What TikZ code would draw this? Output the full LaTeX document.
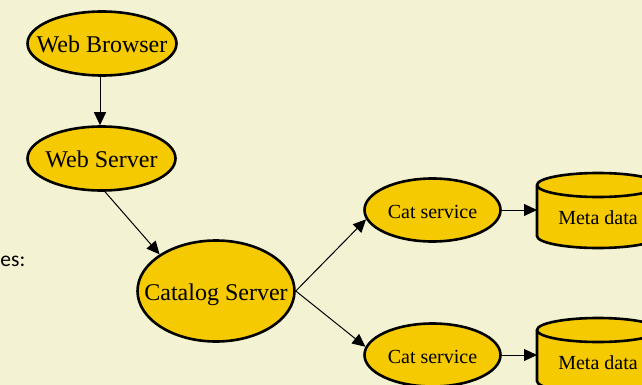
\documentclass[tikz,border=0pt]{standalone}
\usepackage{fontspec}
\setmainfont{Liberation Serif}
\newfontfamily\bodysans{Carlito}
\usetikzlibrary{arrows.meta,shapes.geometric}

\definecolor{pagebg}{RGB}{243,243,212}
\definecolor{gold}{RGB}{245,202,0}

\tikzset{
  ell/.style={ellipse, draw=black, fill=gold, line width=2.6pt, inner sep=0pt},
  bigtext/.style={font=\fontsize{24}{28}\selectfont, text depth=0pt, text height=15.9pt, inner sep=0pt, yshift=-1.5pt},
  smalltext/.style={font=\fontsize{20}{24}\selectfont, text depth=0pt, text height=13.2pt, inner sep=0pt},
  link/.style={draw=black, line width=1pt, -{Triangle[length=13pt,width=12pt]}},
  cylbody/.style={draw=black, fill=gold, line width=2.6pt},
}

\begin{document}
\begin{tikzpicture}[x=1pt,y=-1pt]
  % page
  \useasboundingbox (0,0) rectangle (642,385);
  \fill[pagebg] (0,0) rectangle (642,385);
  \clip (0,0) rectangle (642,385);

  % fragment of the caption text on the left
  \node[font=\bodysans\fontsize{21.5}{25}\selectfont, anchor=base east, inner sep=0pt]
    (caption) at (25.5,266) {es:};

  % client side
  \node[ell, minimum width=149pt, minimum height=64pt,
        label={[bigtext]center:Web Browser}] (wb) at (102,43.5) {};
  \node[ell, minimum width=148pt, minimum height=64pt,
        label={[bigtext]center:Web Server}] (ws) at (101.5,158.5) {};

  % catalog server
  \node[ell, minimum width=157pt, minimum height=101pt,
        label={[bigtext]center:Catalog Server}] (cs) at (216,291) {};

  % catalog services
  \node[ell, minimum width=136pt, minimum height=63pt,
        label={[smalltext,yshift=-2pt]center:Cat service}] (cat1) at (432.5,210) {};
  \node[ell, minimum width=136pt, minimum height=63pt,
        label={[smalltext,yshift=-2pt]center:Cat service}] (cat2) at (432.5,355) {};

  % metadata stores (cylinders)
  \foreach \n/\t in {meta1/173, meta2/318} {
    \node[minimum width=122pt, minimum height=75pt, inner sep=0pt, outer sep=0pt,
          anchor=north west] (\n) at (537,\t) {};
    \draw[cylbody]
      ([yshift=-12pt]\n.north west) -- ([yshift=12pt]\n.south west)
      arc[start angle=180, end angle=360, x radius=61pt, y radius=12pt]
      -- ([yshift=-12pt]\n.north east)
      arc[start angle=0, end angle=180, x radius=61pt, y radius=12pt]
      -- cycle;
    \draw[line width=2.6pt]
      ([yshift=-12pt]\n.north west)
      arc[start angle=180, end angle=360, x radius=61pt, y radius=12pt];
    \node[smalltext] at ([yshift=-7.5pt]\n.center) {Meta data};
  }

  % connectors
  \draw[link] (wb.south -| ws.north) ++(-1.5,0) coordinate (wbout) (wbout) -- (wbout |- ws.north);
  \draw[link] (ws.276) -- (cs.147);
  \draw[link] (cs.east) -- (cat1.188);
  \draw[link] (cs.east) -- (cat2.173);
  \draw[link] (cat1.east) -- (meta1.west |- cat1.east);
  \draw[link] (cat2.east) -- (meta2.west |- cat2.east);
\end{tikzpicture}
\end{document}
